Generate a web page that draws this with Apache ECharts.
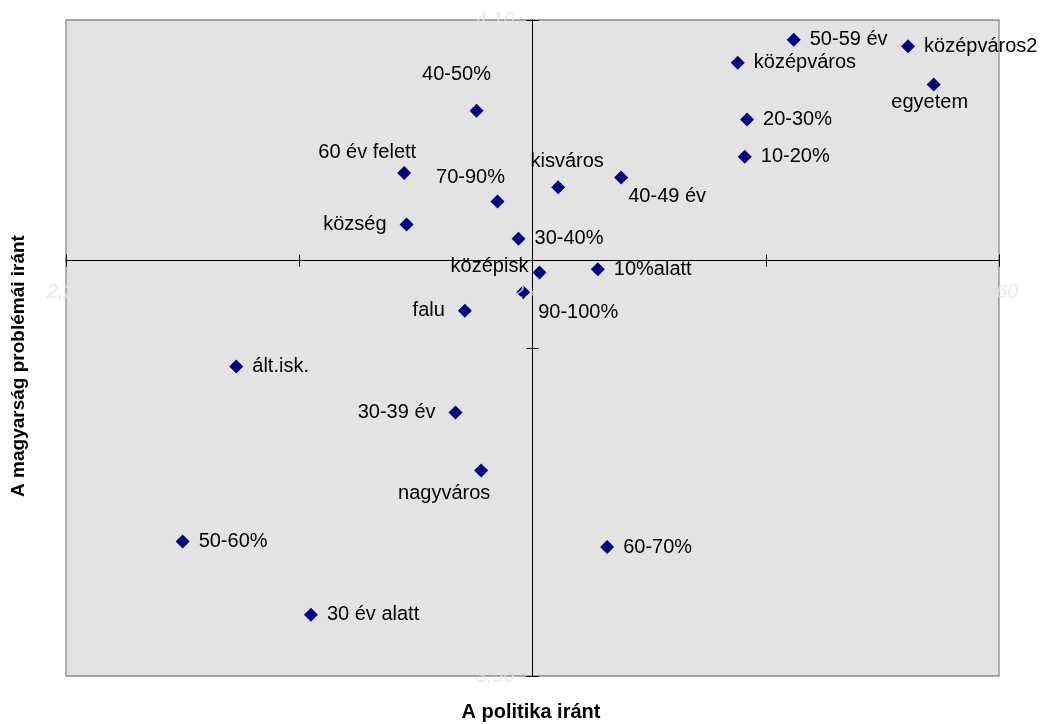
<!DOCTYPE html>
<html>
<head>
<meta charset="utf-8">
<script src="https://cdn.jsdelivr.net/npm/echarts@6/dist/echarts.min.js"></script>
<style>
html,body{margin:0;padding:0;background:#fff;}
#chart{width:1045px;height:724px;}
</style>
</head>
<body>
<div id="chart"></div>
<script>
// ---- data ----
const names = ['50-59 év','középváros2','középváros','egyetem','20-30%','10-20%','40-50%','60 év felett','kisváros','40-49 év','70-90%','község','30-40%','középisk','10%alatt','90-100%','falu','ált.isk.','30-39 év','nagyváros','50-60%','60-70%','30 év alatt'];
const politika = [2.512,2.561,2.488,2.572,2.492,2.491,2.376,2.345,2.411,2.438,2.385,2.346,2.394,2.403,2.428,2.396,2.371,2.273,2.367,2.378,2.250,2.432,2.305];
const magyarsag = [4.082,4.076,4.061,4.041,4.009,3.975,4.017,3.960,3.947,3.956,3.934,3.913,3.900,3.869,3.872,3.851,3.834,3.783,3.741,3.688,3.623,3.618,3.556];

const xTicks = [2.20,2.30,2.40,2.50,2.60];
const yTicks = [3.50,3.80,4.10];
const xCross = 2.40;   // value where the vertical axis crosses
const yCross = 3.88;   // value where the horizontal axis crosses

const xTitle = 'A politika iránt';
const yTitle = 'A magyarság problémái iránt';

// ---- label placement (style) ----
const place = {
  '40-50%': [-20,-36], '60 év felett': [-37,-21], 'kisváros': [9,-26], '40-49 év': [46,19],
  '70-90%': [-27,-24], 'középisk': [-50,-6], '90-100%': [55,20], 'nagyváros': [-37,23],
  'egyetem': [-4,18], 'község': 'left', 'falu': 'left', '30-39 év': 'left'
};

const fmt = v => v.toFixed(2).replace('.', ',');
const xs = xTicks.map(v => +(v - xCross).toFixed(6));
const ys = yTicks.map(v => +(v - yCross).toFixed(6));
const xMin = xs[0], xMax = xs[xs.length-1];
const yMin = ys[0], yMax = ys[ys.length-1];

const FONT = 'Liberation Sans, Arial, sans-serif';
const PLOT_BG = '#e3e3e3';

const data = names.map((n,i) => {
  const p = place[n];
  let label;
  if (Array.isArray(p)) label = {position:'inside', offset:p};
  else if (p === 'left') label = {position:'left', distance:13};
  else label = {position:'right', distance:9};
  return {name:n, value:[politika[i]-xCross, magyarsag[i]-yCross], label:label};
});

// tick labels, drawn at the crossing axes through the same scales
const tickLabelStyle = {show:true, fontStyle:'italic', fontSize:20, color:PLOT_BG, fontFamily:FONT};
const xTickData = xTicks.map((v,i) => ({value:[xs[i], 0], name:fmt(v)}));
const yTickData = yTicks.map((v,i) => ({value:[0, ys[i]], name:fmt(v)}));

const axisBase = {
  type:'value',
  axisLine:{show:true, onZero:true, lineStyle:{color:'#000', width:1}},
  splitLine:{show:false},
  axisLabel:{show:false}
};

const chart = echarts.init(document.getElementById('chart'), null, {renderer:'canvas'});
chart.setOption({
  animation:false,
  grid:{left:66, top:20, right:46, bottom:48, show:true, backgroundColor:PLOT_BG, borderColor:'#8c8c8c', borderWidth:1.3},
  xAxis:[
    Object.assign({}, axisBase, {position:'bottom', min:xMin, max:xMax,
      axisTick:{show:true, length:6, customValues:xs, lineStyle:{color:'#000'}}}),
    Object.assign({}, axisBase, {position:'top', min:xMin, max:xMax,
      axisTick:{show:true, length:6, customValues:xs, lineStyle:{color:'#000'}}})
  ],
  yAxis:[
    Object.assign({}, axisBase, {position:'left', min:yMin, max:yMax,
      axisTick:{show:true, length:6, customValues:ys, lineStyle:{color:'#000'}}}),
    Object.assign({}, axisBase, {position:'right', min:yMin, max:yMax,
      axisTick:{show:true, length:6, customValues:ys, lineStyle:{color:'#000'}}})
  ],
  graphic:[
    {type:'text', x:531, y:712, style:{text:xTitle, fill:'#000', font:'bold 20px "Liberation Sans", Arial, sans-serif', align:'center', verticalAlign:'middle'}},
    {type:'text', x:19, y:366, rotation:Math.PI/2, style:{text:yTitle, fill:'#000', font:'bold 19px "Liberation Sans", Arial, sans-serif', align:'center', verticalAlign:'middle'}}
  ],
  series:[{
    type:'scatter',
    xAxisIndex:0, yAxisIndex:0,
    symbol:'diamond', symbolSize:14,
    itemStyle:{color:'#000080', opacity:1},
    label:{show:true, formatter:p => p.name, fontFamily:FONT, fontSize:20, color:'#000'},
    emphasis:{disabled:true},
    data:data
  },{
    type:'scatter', xAxisIndex:0, yAxisIndex:0, symbolSize:0, clip:false, silent:true, z:5,
    label:Object.assign({position:'bottom', distance:22, formatter:p => p.name}, tickLabelStyle),
    data:xTickData
  },{
    type:'scatter', xAxisIndex:0, yAxisIndex:0, symbolSize:0, clip:false, silent:true, z:5,
    label:Object.assign({position:'left', distance:18, formatter:p => p.name}, tickLabelStyle),
    data:yTickData
  }]
});
</script>
</body>
</html>
